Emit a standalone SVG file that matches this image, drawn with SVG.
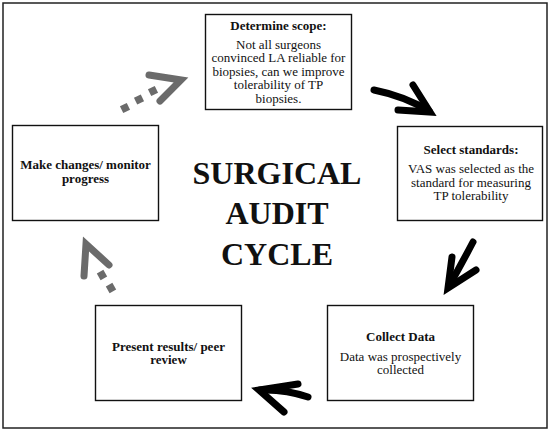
<svg xmlns="http://www.w3.org/2000/svg" width="550" height="431" viewBox="0 0 550 431">
<style>
.box{fill:#fff;stroke:#111;stroke-width:1.4}
.t{font-family:"Liberation Serif","Times New Roman",serif;font-size:13px;fill:#111;text-anchor:middle}
.b{font-weight:bold}
.title{font-family:"Liberation Serif","Times New Roman",serif;font-size:32px;font-weight:bold;fill:#111;text-anchor:middle}
.blk{fill:none;stroke:#000;stroke-width:7;stroke-linecap:round;stroke-linejoin:miter}
.gry{fill:none;stroke:#6b6b6b;stroke-width:7;stroke-linecap:round;stroke-linejoin:miter}
.dot{fill:#6b6b6b}
</style>
<rect x="0" y="0" width="550" height="431" fill="#fff"/>
<rect x="3" y="3" width="544" height="425" fill="none" stroke="#222" stroke-width="1.5"/>
<g id="title">
<text class="title" x="277" y="184">SURGICAL</text>
<text class="title" x="277" y="224">AUDIT</text>
<text class="title" x="277" y="265">CYCLE</text>
</g>
<g id="determine-scope">
<rect class="box" x="205.5" y="14.5" width="146" height="95"/>
<text class="t b" x="278.5" y="30">Determine scope:</text>
<text class="t" x="278.5" y="48.5">Not all surgeons</text>
<text class="t" x="278.5" y="62">convinced LA reliable for</text>
<text class="t" x="278.5" y="75.5">biopsies, can we improve</text>
<text class="t" x="278.5" y="89">tolerability of TP</text>
<text class="t" x="278.5" y="102.5">biopsies.</text>
</g>
<g id="select-standards">
<rect class="box" x="397.5" y="126.5" width="145" height="94"/>
<text class="t b" x="471" y="154">Select standards:</text>
<text class="t" x="471" y="173">VAS was selected as the</text>
<text class="t" x="471" y="186.5">standard for measuring</text>
<text class="t" x="471" y="200">TP tolerability</text>
</g>
<g id="collect-data">
<rect class="box" x="327.5" y="305.5" width="146" height="95"/>
<text class="t b" x="400.5" y="340.5">Collect Data</text>
<text class="t" x="400.5" y="360.5">Data was prospectively</text>
<text class="t" x="400.5" y="374">collected</text>
</g>
<g id="present-results">
<rect class="box" x="95.5" y="305.5" width="146" height="95"/>
<text class="t b" x="168.5" y="350.5">Present results/ peer</text>
<text class="t b" x="168.5" y="364">review</text>
</g>
<g id="make-changes">
<rect class="box" x="12.5" y="125.5" width="146" height="95"/>
<text class="t b" x="85.5" y="169">Make changes/ monitor</text>
<text class="t b" x="85.5" y="183">progress</text>
</g>
<g id="connectors">
<path class="blk" d="M374,90 Q404,96 429,111"/>
<path class="blk" d="M413,85 L430,112 L398,110"/>
<path class="blk" d="M473,242 Q462,263 449,286"/>
<path class="blk" d="M452,257 L448,288 L476,270"/>
<path class="blk" d="M308,397 Q285,389 260,390"/>
<path class="blk" d="M298,384 L259,390 L284,412"/>
<path class="gry" d="M84,276 L86,244 L109,265"/>
<rect class="dot" x="-3.8" y="-3.8" width="7.6" height="7.6" transform="translate(102,275) rotate(-30)"/>
<rect class="dot" x="-3.8" y="-3.8" width="7.6" height="7.6" transform="translate(111,288) rotate(-30)"/>
<path class="gry" d="M149,75 L181,80 L160,101"/>
<rect class="dot" x="-3.8" y="-3.8" width="7.6" height="7.6" transform="translate(153,91) rotate(-26)"/>
<rect class="dot" x="-3.8" y="-3.8" width="7.6" height="7.6" transform="translate(139,99.5) rotate(-26)"/>
<rect class="dot" x="-3.8" y="-3.8" width="7.6" height="7.6" transform="translate(125,108) rotate(-26)"/>
</g>
</svg>
